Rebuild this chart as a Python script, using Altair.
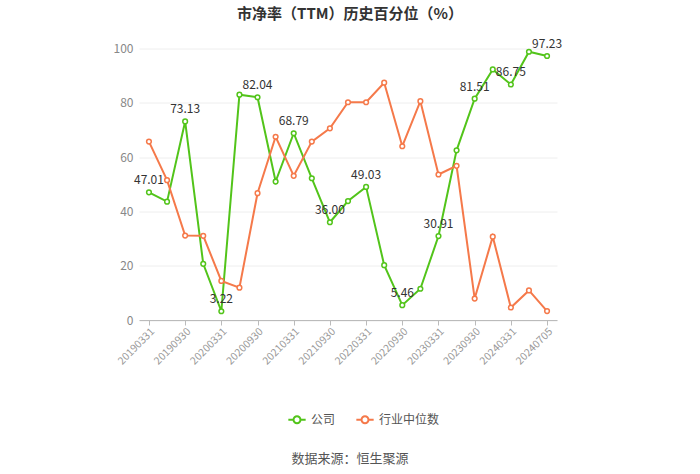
import altair as alt
import pandas as pd

dates = ["20190331", "20190630", "20190930", "20191231", "20200331", "20200630",
         "20200930", "20201231", "20210331", "20210630", "20210930", "20211231",
         "20220331", "20220630", "20220930", "20221231", "20230331", "20230630",
         "20230930", "20231231", "20240331", "20240630", "20240705"]
company = [47.01, 43.6, 73.13, 20.7, 3.22, 83.0, 82.04, 51.0, 68.79, 52.2, 36.00, 43.8,
           49.03, 20.2, 5.46, 11.5, 30.91, 62.5, 81.51, 92.3, 86.75, 98.8, 97.23]
industry = [65.7, 51.5, 31.1, 31.0, 14.4, 11.9, 46.7, 67.5, 53.1, 65.7, 70.6, 80.2,
            80.2, 87.4, 64.0, 80.6, 53.6, 56.8, 7.9, 30.7, 4.6, 10.9, 3.3]
tick_labels = dates[0::2]
series_names = ["公司", "行业中位数"]
colors = ["#52c41a", "#f5794a"]
title_text = "市净率（TTM）历史百分位（%）"
source_text = "数据来源：恒生聚源"

rows = []
for i, d in enumerate(dates):
    rows.append({"date": d, "series": series_names[0], "value": company[i], "order": 0})
    rows.append({"date": d, "series": series_names[1], "value": industry[i], "order": 1})
df = pd.DataFrame(rows)

lab = pd.DataFrame({"date": dates[0::2], "value": company[0::2]})
lab["text"] = [f"{v:.2f}" for v in lab["value"]]

FONT = "Noto Sans CJK SC"

x_enc = alt.X("date:O", sort=dates,
              scale=alt.Scale(type="point", padding=0.55),
              axis=alt.Axis(values=tick_labels, labelAngle=-45, labelAlign="right",
                            labelBaseline="top", labelColor="#999", labelFontSize=10.5,
                            labelFont=FONT, domainColor="#bbb", tickColor="#bbb",
                            tickSize=5, title=None, grid=False, labelPadding=1))
y_enc = alt.Y("value:Q", scale=alt.Scale(domain=[0, 100]),
              axis=alt.Axis(values=[0, 20, 40, 60, 80, 100], labelColor="#888",
                            labelFontSize=12, labelFont=FONT, domain=False, ticks=False,
                            gridColor="#eee", title=None, labelPadding=6))

lines = alt.Chart(df).mark_line(strokeWidth=2,
                                point=alt.OverlayMarkDef(filled=False, fill="white",
                                                         size=22, strokeWidth=1.5)).encode(
    x=x_enc, y=y_enc,
    color=alt.Color("series:N", sort=series_names,
                    scale=alt.Scale(domain=series_names, range=colors),
                    legend=alt.Legend(orient="none", legendX=148, legendY=361,
                                      direction="horizontal", title=None,
                                      labelFont=FONT, labelFontSize=12, labelColor="#555",
                                      symbolType="M-1,0L-0.4,0M0.4,0L1,0M-0.4,0A0.4,0.4 0 1,0 0.4,0A0.4,0.4 0 1,0 -0.4,0",
                                      symbolSize=300, symbolStrokeWidth=2,
                                      symbolFillColor="white", columnPadding=16)),
    order=alt.Order("order:Q"),
    detail="series:N",
)

labels = alt.Chart(lab).mark_text(dy=-12, fontSize=12, color="#333", font=FONT).encode(
    x=alt.X("date:O", sort=dates), y="value:Q", text="text:N")

src = alt.Chart(pd.DataFrame({"t": [source_text]})).mark_text(
    fontSize=13, color="#555", font=FONT, align="center", baseline="middle").encode(
    x=alt.value(211), y=alt.value(410), text="t:N")

chart = alt.layer(lines, labels, src).properties(
    width=418, height=271.5,
    padding={"left": 139, "top": 48.5, "right": 143, "bottom": 154},
    autosize=alt.AutoSizeParams(type="none"),
    title=alt.TitleParams(title_text, font=FONT, fontSize=15, fontWeight="bold",
                          color="#333", anchor="middle", offset=16, dx=2),
).configure_view(stroke=None)

chart.save("out.html", embed_options={"renderer": "svg", "actions": False})
